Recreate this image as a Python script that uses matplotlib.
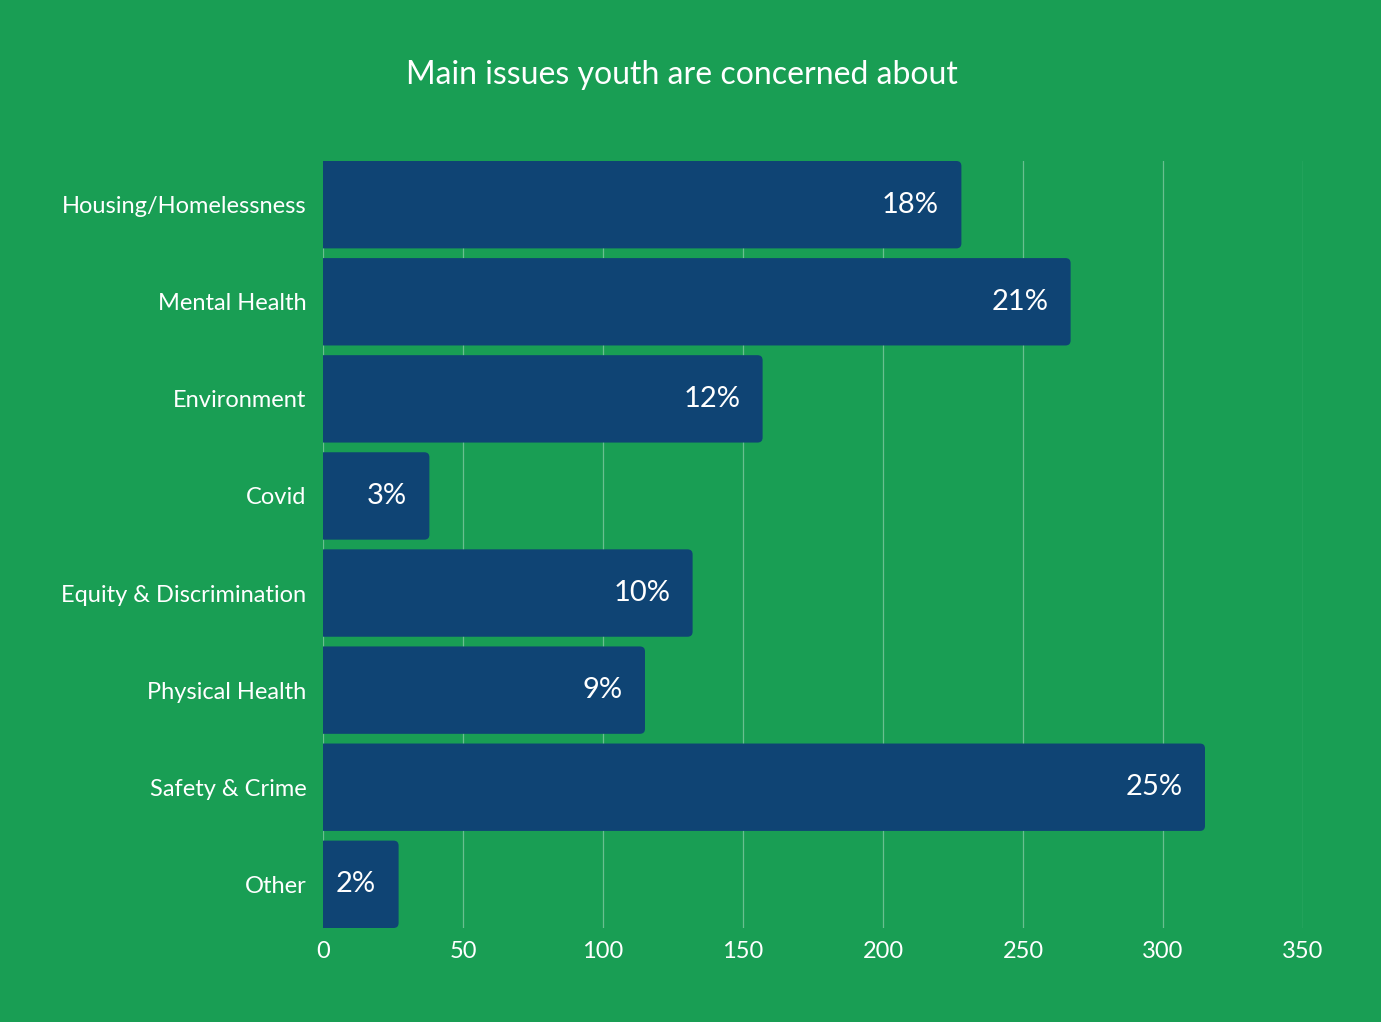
import matplotlib.pyplot as plt
from matplotlib.patches import FancyBboxPatch

plt.rcParams['font.family'] = ['Lato', 'DejaVu Sans']

# data
categories = ['Housing/Homelessness', 'Mental Health', 'Environment', 'Covid',
              'Equity & Discrimination', 'Physical Health', 'Safety & Crime', 'Other']
counts = [228, 267, 157, 38, 132, 115, 315, 27]
pct_labels = ['18%', '21%', '12%', '3%', '10%', '9%', '25%', '2%']
xticks = [0, 50, 100, 150, 200, 250, 300, 350]

bg = '#199e54'
bar_color = '#0f4474'

fig = plt.figure(figsize=(13.81, 10.22), dpi=100, facecolor=bg)
ax = fig.add_axes([323 / 1381, 1 - 928 / 1022, 980 / 1381, 767 / 1022])
ax.set_facecolor(bg)

bars = ax.barh(range(len(categories)), counts, height=0.9, color=bar_color)

ax.set_xlim(0, 350)
ax.set_ylim(len(categories) - 0.55, -0.45)

# rounded right corners (left corners pushed outside the axes and clipped)
aspect = (767 / 7.9) / (980 / 350)
for b in bars:
    x, y, w, h = b.get_x(), b.get_y(), b.get_width(), b.get_height()
    b.set_visible(False)
    ax.add_patch(FancyBboxPatch((x - 4, y), w + 4, h, boxstyle='round,pad=0,rounding_size=1.8',
                                mutation_aspect=1 / aspect, fc=bar_color, ec='none', zorder=2))

for i, (v, lab) in enumerate(zip(counts, pct_labels)):
    ax.text(v - 8, i, lab, ha='right', va='center', color='white', fontsize=21, zorder=3)

ax.set_xticks(xticks)
ax.set_yticks(range(len(categories)))
ax.set_yticklabels(categories, fontsize=17)
ax.tick_params(axis='both', length=0, colors='white', labelsize=17)
ax.tick_params(axis='x', pad=9)
ax.tick_params(axis='y', pad=12)
ax.grid(axis='x', color='white', alpha=0.35, linewidth=0.9, zorder=0)
ax.set_axisbelow(True)
for s in ax.spines.values():
    s.set_visible(False)

fig.text(682 / 1381, 1 - 75 / 1022, 'Main issues youth are concerned about',
         ha='center', va='center', color='white', fontsize=23)

fig.savefig('out.png', dpi=100, facecolor=bg)
